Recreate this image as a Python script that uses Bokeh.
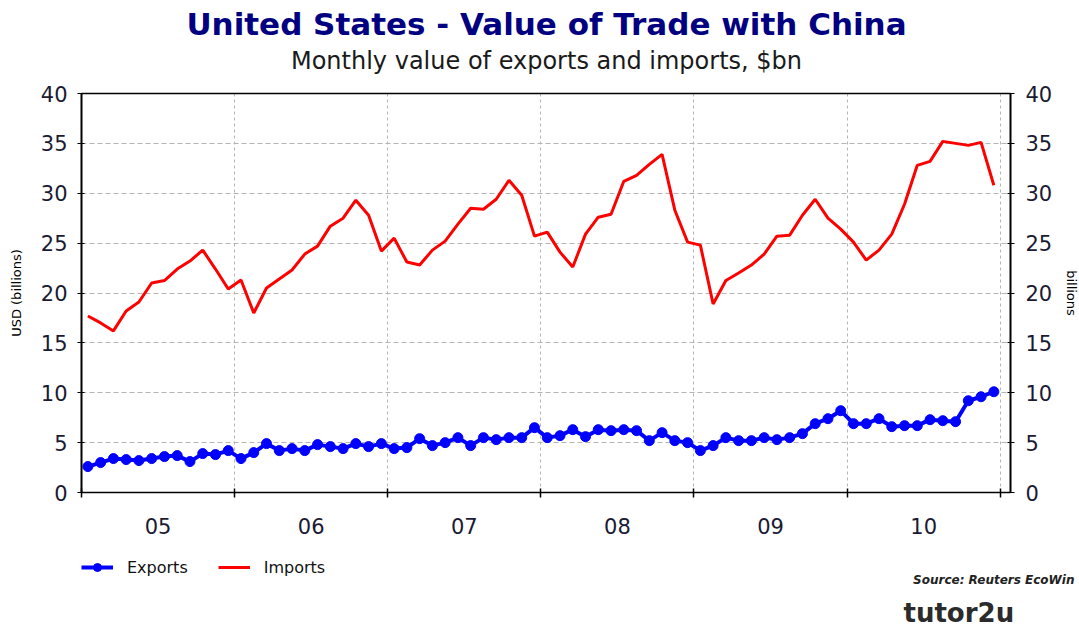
from bokeh.plotting import figure
from bokeh.models import (Range1d, LinearAxis, FixedTicker, Label, Legend, LegendItem, Grid)
from bokeh.embed import file_html
from bokeh.resources import INLINE

# ---- data (monthly, Jan 2005 .. Dec 2010, $bn) ----
year_labels = ["05", "06", "07", "08", "09", "10"]

exports = [2.6, 3.0, 3.4, 3.3, 3.2, 3.4, 3.6, 3.7, 3.1, 3.9, 3.8, 4.2,
           3.4, 4.0, 4.9, 4.2, 4.4, 4.2, 4.8, 4.6, 4.4, 4.9, 4.6, 4.9,
           4.4, 4.5, 5.4, 4.7, 5.0, 5.5, 4.7, 5.5, 5.3, 5.5, 5.5, 6.5,
           5.5, 5.7, 6.3, 5.6, 6.3, 6.2, 6.3, 6.2, 5.2, 6.0, 5.2, 5.0,
           4.2, 4.7, 5.5, 5.2, 5.2, 5.5, 5.3, 5.5, 5.9, 6.9, 7.4, 8.2,
           6.9, 6.9, 7.4, 6.6, 6.7, 6.7, 7.3, 7.2, 7.1, 9.2, 9.6, 10.1]

imports = [17.7, 17.0, 16.2, 18.2, 19.1, 21.0, 21.25, 22.4, 23.2, 24.3, 22.4, 20.4,
           21.3, 18.0, 20.5, 21.4, 22.3, 23.9, 24.7, 26.7, 27.5, 29.3, 27.8, 24.2,
           25.5, 23.1, 22.8, 24.3, 25.2, 26.9, 28.5, 28.4, 29.4, 31.3, 29.8, 25.7,
           26.1, 24.1, 22.6, 25.9, 27.6, 27.9, 31.2, 31.8, 32.9, 33.9, 28.3, 25.1,
           24.8, 18.9, 21.25, 22.0, 22.8, 23.9, 25.7, 25.8, 27.8, 29.4, 27.5, 26.4,
           25.1, 23.3, 24.3, 25.9, 28.9, 32.8, 33.2, 35.2, 35.0, 34.8, 35.1, 30.8]

y_ticks = [0, 5, 10, 15, 20, 25, 30, 35, 40]

n = len(exports)
x = [i + 0.5 for i in range(n)]          # mid-month positions (months since Jan 2005)
year_edges = [12 * i for i in range(len(year_labels) + 1)]
year_mids = [12 * i + 6 for i in range(len(year_labels))]

FONT = "DejaVu Sans"
W, H = 1079, 627
EXP_COLOR = "#0000ff"
IMP_COLOR = "#ff0000"

# layout geometry (pixels): chart box 81..1010 x 93..492
PX0, PXM = 81.0, 12.76        # x pixel of month 0, pixels per month
PY0, PYU = 492.0, 9.975       # y pixel of value 0, pixels per unit
X_END = 72.8                  # right edge of chart box, in months
Y_TOP = 40

def dx(px):
    return (px - PX0) / PXM

def dy(py):
    return (PY0 - py) / PYU

p = figure(width=W, height=H, output_backend="svg", toolbar_location=None,
           x_range=Range1d(dx(0), dx(W)), y_range=Range1d(dy(H), dy(0)),
           x_axis_type=None, y_axis_type=None, min_border=0)
p.outline_line_color = None
p.background_fill_color = "white"
p.border_fill_color = "white"

# grids (confined to the chart box)
p.add_layout(Grid(dimension=0, ticker=FixedTicker(ticks=year_edges[1:]),
                  bounds=(0, X_END), cross_bounds=(0, Y_TOP),
                  grid_line_color="#b4b4b4", grid_line_dash="3 3"))
p.add_layout(Grid(dimension=1, ticker=FixedTicker(ticks=y_ticks[1:-1]),
                  bounds=(0, Y_TOP), cross_bounds=(0, X_END),
                  grid_line_color="#b4b4b4", grid_line_dash="5 3"))

# y axes
def style_y(ax, label_standoff, title_standoff):
    ax.axis_line_color = "black"
    ax.axis_line_width = 2
    ax.major_tick_out = 4
    ax.major_tick_in = 3
    ax.minor_tick_line_color = None
    ax.major_label_standoff = label_standoff
    ax.major_label_text_font = FONT
    ax.major_label_text_font_size = "21px"
    ax.major_label_text_color = "#1a1a33"
    ax.axis_label_text_font = FONT
    ax.axis_label_text_font_size = "13px"
    ax.axis_label_text_font_style = "normal"
    ax.axis_label_text_color = "black"
    ax.axis_label_standoff = title_standoff

left_ax = LinearAxis(fixed_location=0, bounds=(0, Y_TOP), ticker=FixedTicker(ticks=y_ticks),
                     axis_label="USD (billions)")
style_y(left_ax, 10, 14)
p.add_layout(left_ax, "left")

right_ax = LinearAxis(fixed_location=X_END, bounds=(0, Y_TOP), ticker=FixedTicker(ticks=y_ticks),
                      axis_label="billions")
style_y(right_ax, 11, 9)
p.add_layout(right_ax, "right")

# x axis: labels at mid-year, tick marks at year boundaries
xa = LinearAxis(fixed_location=0, bounds=(0, X_END),
                ticker=FixedTicker(ticks=year_mids, minor_ticks=year_edges))
xa.major_label_overrides = {m: lab for m, lab in zip(year_mids, year_labels)}
xa.major_tick_line_color = None
xa.major_tick_out = 0
xa.major_tick_in = 0
xa.minor_tick_in = 4
xa.minor_tick_out = 5
xa.minor_tick_line_color = "black"
xa.minor_tick_line_width = 1.5
xa.axis_line_color = "black"
xa.axis_line_width = 1.5
xa.major_label_standoff = 20
xa.major_label_text_font = FONT
xa.major_label_text_font_size = "21px"
xa.major_label_text_color = "#1a1a33"
p.add_layout(xa, "below")

# top border line of the chart box
top_ax = LinearAxis(fixed_location=Y_TOP, bounds=(0, X_END), ticker=FixedTicker(ticks=[]))
top_ax.axis_line_color = "black"
top_ax.axis_line_width = 1.5
top_ax.major_label_text_font_size = "0px"
top_ax.major_tick_line_color = None
top_ax.minor_tick_line_color = None
p.add_layout(top_ax, "above")

# series
ex_line = p.line(x, exports, line_color=EXP_COLOR, line_width=4)
ex_pts = p.scatter(x, exports, size=10, fill_color=EXP_COLOR, line_color=EXP_COLOR)
im_line = p.line(x, imports, line_color=IMP_COLOR, line_width=3)

legend = Legend(items=[LegendItem(label="Exports", renderers=[ex_line, ex_pts]),
                       LegendItem(label="Imports", renderers=[im_line])],
                orientation="horizontal", location=(81, 50))
legend.border_line_color = None
legend.background_fill_alpha = 0
legend.label_text_font = FONT
legend.label_text_font_size = "16px"
legend.label_text_color = "#111111"
legend.glyph_width = 32
legend.glyph_height = 20
legend.label_standoff = 14
legend.spacing = 30
legend.padding = 4
legend.margin = 0
p.add_layout(legend, "center")

# titles and footer texts
p.add_layout(Label(x=dx(546), y=dy(23), text="United States - Value of Trade with China",
                   text_align="center", text_baseline="middle", text_font=FONT,
                   text_font_size="31px", text_font_style="bold", text_color="#000080"))
p.add_layout(Label(x=dx(546), y=dy(60), text="Monthly value of exports and imports, $bn",
                   text_align="center", text_baseline="middle", text_font=FONT,
                   text_font_size="24px", text_color="#1a1a1a"))
p.add_layout(Label(x=dx(1074), y=dy(579), text="Source: Reuters EcoWin",
                   text_align="right", text_baseline="middle", text_font=FONT,
                   text_font_size="12px", text_font_style="bold italic", text_color="#222222"))
p.add_layout(Label(x=dx(903), y=dy(612), text="tutor2u",
                   text_align="left", text_baseline="middle", text_font=FONT,
                   text_font_size="26px", text_font_style="bold", text_color="#2b2b2b"))

open("out.html", "w").write(file_html(p, INLINE))
